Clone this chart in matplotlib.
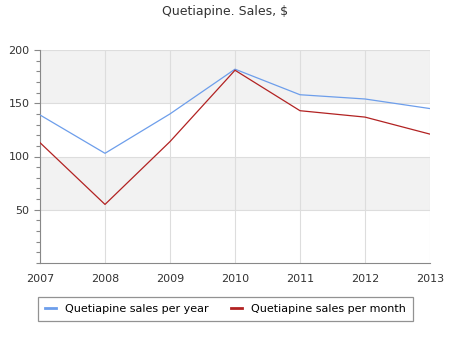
import matplotlib.pyplot as plt
from matplotlib.ticker import MultipleLocator

years = [2007, 2008, 2009, 2010, 2011, 2012, 2013]
per_year = [139, 103, 140, 182, 158, 154, 145]
per_month = [113, 55, 114, 181, 143, 137, 121]

fig = plt.figure(figsize=(4.5, 3.5), dpi=100)
ax = fig.add_axes([40 / 450, 1 - 263 / 350, 390 / 450, 213 / 350])

# alternating bands
for lo, hi in [(50, 100), (150, 200)]:
    ax.axhspan(lo, hi, color="#f2f2f2", zorder=0, lw=0)

ax.plot(years, per_year, color="#6d9eeb", lw=0.9, label="Quetiapine sales per year", zorder=3)
ax.plot(years, per_month, color="#b22222", lw=0.9, label="Quetiapine sales per month", zorder=3)

ax.set_xlim(2007, 2013)
ax.set_ylim(0, 200)
ax.set_xticks(years)
ax.set_yticks([50, 100, 150, 200])
ax.yaxis.set_minor_locator(MultipleLocator(10))
ax.grid(True, color="#dddddd", lw=0.8, zorder=1)
ax.set_axisbelow(True)

for side in ["top", "right"]:
    ax.spines[side].set_visible(False)
for side in ["left", "bottom"]:
    ax.spines[side].set_color("#888888")
    ax.spines[side].set_linewidth(0.8)

ax.tick_params(axis="both", colors="#888888", labelcolor="#333333", labelsize=8, length=4, width=0.8)
ax.tick_params(axis="y", which="minor", colors="#888888", length=3, width=0.8)
ax.tick_params(axis="x", length=0, pad=8)

fig.text(0.5, 1 - 12 / 350, "Quetiapine. Sales, $", ha="center", va="center", fontsize=9, color="#333333")

leg = fig.legend(loc="center", bbox_to_anchor=(225.5 / 450, 1 - 309 / 350), ncol=2, fontsize=8,
                 frameon=True, fancybox=False, handlelength=1.0, columnspacing=2.0,
                 edgecolor="#777777", borderpad=0.6)
leg.get_frame().set_linewidth(0.9)
for line in leg.get_lines():
    line.set_linewidth(2)

fig.savefig("out.png", dpi=100)
